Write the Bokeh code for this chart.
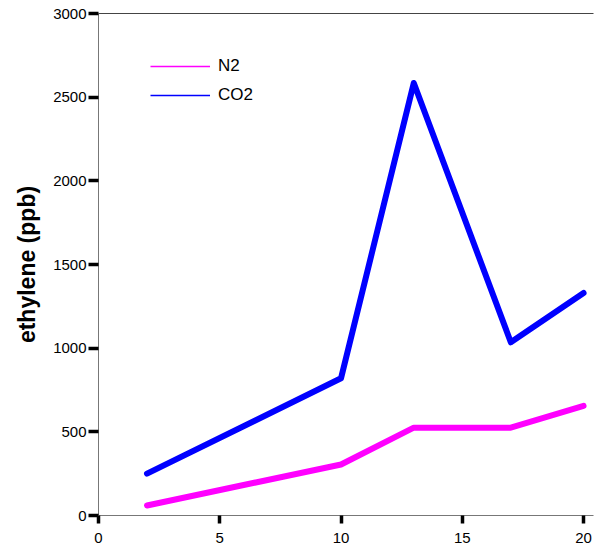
from bokeh.plotting import figure
from bokeh.models import Range1d, LinearAxis, FixedTicker, Legend, LegendItem, ColumnDataSource
from bokeh.embed import file_html
from bokeh.resources import INLINE

# Data
days = [2, 10, 13, 17, 20]
n2 = [60, 305, 525, 525, 655]
co2 = [250, 820, 2585, 1035, 1330]
x_ticks = [0, 5, 10, 15, 20]
y_ticks = [0, 500, 1000, 1500, 2000, 2500, 3000]

FONT = "Liberation Sans"

p = figure(width=594, height=550, output_backend="svg", toolbar_location=None,
           x_range=Range1d(0, 20.41), y_range=Range1d(0, 3000),
           min_border_left=98, min_border_right=1, min_border_top=13, min_border_bottom=35,
           x_axis_type=None, y_axis_type=None)
p.grid.visible = False
p.outline_line_color = None
p.background_fill_color = "white"
p.border_fill_color = "white"

xa = LinearAxis(ticker=FixedTicker(ticks=x_ticks))
ya = LinearAxis(ticker=FixedTicker(ticks=y_ticks), axis_label="ethylene (ppb)")
for ax, tick_out, standoff in ((xa, 8, 9), (ya, 10, 2)):
    ax.axis_line_color = "#777777"
    ax.axis_line_width = 1
    ax.major_tick_line_color = "black"
    ax.major_tick_line_width = 3.5
    ax.major_tick_in = 0
    ax.major_tick_out = tick_out
    ax.minor_tick_line_color = None
    ax.major_label_text_font = FONT
    ax.major_label_text_font_size = "15px"
    ax.major_label_text_color = "black"
    ax.major_label_standoff = standoff
ya.axis_label_text_font = FONT
ya.axis_label_text_font_size = "23px"
ya.axis_label_text_font_style = "bold"
ya.axis_label_text_color = "black"
ya.axis_label_standoff = 10
p.add_layout(xa, "below")
p.add_layout(ya, "left")

top = LinearAxis(ticker=FixedTicker(ticks=[]))
top.axis_line_color = "#444444"
top.axis_line_width = 1
top.major_tick_line_color = None
top.minor_tick_line_color = None
top.major_label_text_font_size = "0px"
p.add_layout(top, "above")

src = ColumnDataSource(dict(x=days, n2=n2, co2=co2))

# thin renderers used only for the legend glyphs; hidden under the thick lines
ln2 = p.line("x", "n2", source=src, line_color="#ff00ff", line_width=1.5)
lco2 = p.line("x", "co2", source=src, line_color="#0000ff", line_width=1.5)

p.line("x", "n2", source=src, line_color="#ff00ff", line_width=6, line_cap="round", line_join="round")
p.line("x", "co2", source=src, line_color="#0000ff", line_width=6, line_cap="round", line_join="round")

legend = Legend(items=[LegendItem(label="N2", renderers=[ln2]),
                       LegendItem(label="CO2", renderers=[lco2])],
                location=(52, 410), padding=0, margin=0, spacing=9,
                glyph_width=60, glyph_height=20, label_height=20, label_standoff=8,
                border_line_color=None, background_fill_alpha=0,
                label_text_font=FONT, label_text_font_size="17px", label_text_color="black")
p.add_layout(legend, "center")

open("out.html", "w").write(file_html(p, INLINE))
